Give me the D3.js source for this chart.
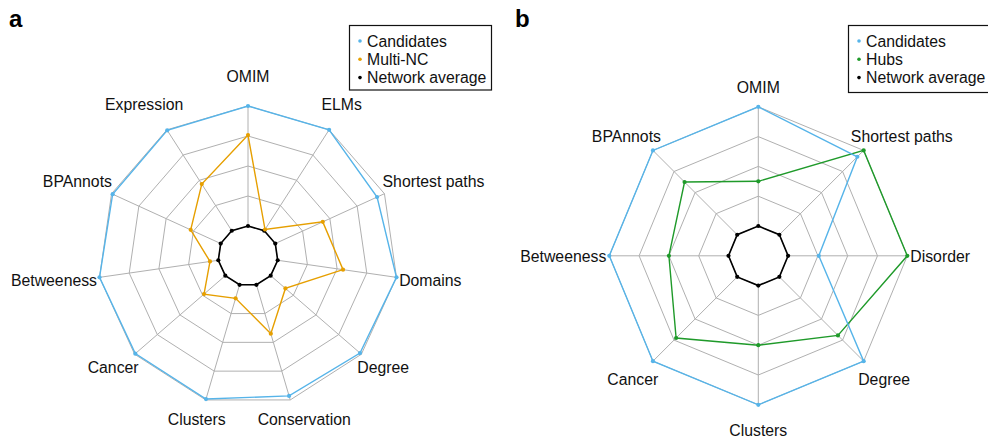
<!DOCTYPE html>
<html>
<head>
<meta charset="utf-8">
<script src="https://cdn.jsdelivr.net/npm/d3@7"></script>
<style>
  body { margin: 0; background: #fff; }
  svg { display: block; font-family: "Liberation Sans", Arial, Helvetica, sans-serif; }
</style>
</head>
<body>
<script>
// Panel a: candidates vs multi-NC proteins
var axesA = ["OMIM", "ELMs", "Shortest paths", "Domains", "Degree", "Conservation",
             "Clusters", "Cancer", "Betweeness", "BPAnnots", "Expression"];
var candidatesA = [5, 5, 4.73, 5, 4.94, 4.86, 4.97, 4.97, 5, 4.96, 4.98];
var multiNC     = [4.03, 1.05, 2.74, 3.2, 1.65, 2.7, 1.47, 1.94, 1.28, 2.1, 2.85];
var averageA    = [1, 1, 1, 1, 1, 1, 1, 1, 1, 1, 1];

// Panel b: candidates vs hubs
var axesB = ["OMIM", "Shortest paths", "Disorder", "Degree", "Clusters", "Cancer",
             "Betweeness", "BPAnnots"];
var candidatesB = [5, 4.7, 2.03, 5, 5, 5, 5, 5];
var hubs        = [2.5, 5, 5, 3.78, 3, 3.9, 3, 3.5];
var averageB    = [1, 1, 1, 1, 1, 1, 1, 1];

var ringLevels = [1, 2, 3, 4, 5];

var colBlue = "#56b4e9";
var colOrange = "#e69f00";
var colGreen = "#1f9a2a";

var svg = d3.select("body").append("svg")
    .attr("width", 988)
    .attr("height", 439);

function radar(opts) {
    var n = opts.axes.length;
    var r = d3.scaleLinear().domain([0, 5]).range([0, opts.radius]);
    var angle = d3.scaleLinear().domain([0, n]).range([0, 2 * Math.PI]);
    var g = svg.append("g")
        .attr("transform", "translate(" + opts.cx + "," + opts.cy + ")");

    var pt = function(v, i) {
        var a = angle(i);
        return [r(v) * Math.sin(a), -r(v) * Math.cos(a)];
    };
    var closed = d3.line().curve(d3.curveLinearClosed);

    // grid rings
    g.selectAll("path.ring")
        .data(ringLevels)
        .enter().append("path")
        .attr("class", "ring")
        .attr("d", function(lv) {
            return closed(opts.axes.map(function(d, i) { return pt(lv, i); }));
        })
        .attr("fill", "none")
        .attr("stroke", "#b0b0b0")
        .attr("stroke-width", 1);

    // spokes (start at the first ring, centre stays empty)
    g.selectAll("line.spoke")
        .data(opts.axes)
        .enter().append("line")
        .attr("class", "spoke")
        .attr("x1", function(d, i) { return pt(ringLevels[0], i)[0]; })
        .attr("y1", function(d, i) { return pt(ringLevels[0], i)[1]; })
        .attr("x2", function(d, i) { return pt(ringLevels[ringLevels.length - 1], i)[0]; })
        .attr("y2", function(d, i) { return pt(ringLevels[ringLevels.length - 1], i)[1]; })
        .attr("stroke", "#b0b0b0")
        .attr("stroke-width", 1);

    // series
    opts.series.forEach(function(s) {
        var pts = s.values.map(function(v, i) { return pt(v, i); });
        g.append("path")
            .attr("d", closed(pts))
            .attr("fill", "none")
            .attr("stroke", s.color)
            .attr("stroke-width", s.width);
        g.selectAll(null)
            .data(pts)
            .enter().append("circle")
            .attr("cx", function(d) { return d[0]; })
            .attr("cy", function(d) { return d[1]; })
            .attr("r", 2.1)
            .attr("fill", s.color);
    });

    // axis labels, pushed outward by half their width
    g.selectAll("text.axis")
        .data(opts.axes)
        .enter().append("text")
        .attr("class", "axis")
        .text(function(d) { return d; })
        .attr("font-size", "15.8px")
        .attr("fill", "#111")
        .attr("text-anchor", "middle")
        .attr("dy", "0.36em")
        .each(function(d, i) {
            var w = this.getComputedTextLength();
            var a = angle(i);
            var c = Math.cos(a);
            d3.select(this)
                .attr("x", Math.sin(a) * (opts.labelR + w / 2))
                .attr("y", -c * opts.labelRy + opts.labelShift * Math.abs(c));
        });

    // panel letter
    svg.append("text")
        .attr("x", opts.letterX)
        .attr("y", 27)
        .attr("font-size", "24px")
        .attr("font-weight", "bold")
        .text(opts.letter);

    // legend
    var lg = svg.append("g")
        .attr("transform", "translate(" + opts.legend[0] + "," + opts.legend[1] + ")");
    lg.append("rect")
        .attr("x", 0).attr("y", 0)
        .attr("width", opts.legend[2]).attr("height", opts.legend[3])
        .attr("fill", "#fff")
        .attr("stroke", "#111")
        .attr("stroke-width", 1.2);
    opts.series.slice().reverse().forEach(function(s, i) {
        lg.append("circle")
            .attr("cx", 10.5)
            .attr("cy", 15.5 + i * 18.3)
            .attr("r", 1.8)
            .attr("fill", s.color);
        lg.append("text")
            .attr("x", 17.5)
            .attr("y", 21 + i * 18.3)
            .attr("font-size", "15.8px")
            .attr("fill", "#111")
            .text(s.name);
    });
}

radar({
    axes: axesA, cx: 248, cy: 256, radius: 150,
    labelR: 153, labelRy: 175, labelShift: -5,
    letter: "a", letterX: 9,
    legend: [349.5, 25.5, 142, 64.5],
    series: [
        { name: "Network average", values: averageA, color: "#000", width: 1.6 },
        { name: "Multi-NC", values: multiNC, color: colOrange, width: 1.4 },
        { name: "Candidates", values: candidatesA, color: colBlue, width: 1.4 }
    ]
});

radar({
    axes: axesB, cx: 758.3, cy: 255.8, radius: 149,
    labelR: 152, labelRy: 172, labelShift: 3,
    letter: "b", letterX: 515,
    legend: [848.5, 25.5, 150, 67],
    series: [
        { name: "Network average", values: averageB, color: "#000", width: 1.6 },
        { name: "Hubs", values: hubs, color: colGreen, width: 1.4 },
        { name: "Candidates", values: candidatesB, color: colBlue, width: 1.4 }
    ]
});
</script>
</body>
</html>
